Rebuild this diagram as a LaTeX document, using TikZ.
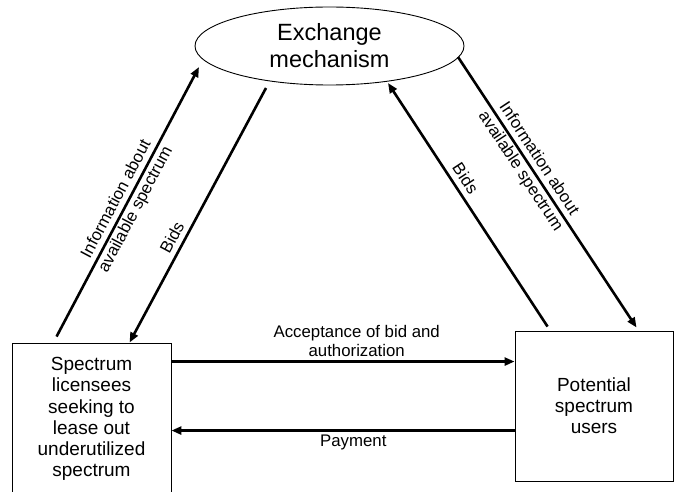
\documentclass[tikz,border=0pt]{standalone}
\usepackage{fontspec}
\setmainfont{Liberation Sans}
\usetikzlibrary{arrows.meta,shapes.geometric}
\begin{document}
\begin{tikzpicture}[x=1pt,y=-1pt,
  ellnode/.style={draw, ellipse, line width=0.9pt, minimum width=269pt, minimum height=78pt, inner sep=0pt, align=center, font=\fontsize{23.5}{27}\selectfont},
  boxnode/.style={draw, rectangle, line width=0.9pt, inner sep=0pt, align=center, font=\fontsize{19}{21.2}\selectfont},
  flow/.style={line width=2.6pt, -{Triangle[length=10pt,width=8pt]}},
  lbl/.style={font=\fontsize{16.8}{22}\selectfont, align=center, text=black},
]
\useasboundingbox (0,0) rectangle (678,492);
\node[ellnode] (ex) at (329.5,46) {Exchange\\mechanism};
\node[boxnode, minimum width=159pt, minimum height=152pt] (L) at (91.5,419) {Spectrum\\licensees\\seeking to\\lease out\\underutilized\\spectrum};
\node[boxnode, minimum width=158pt, minimum height=150pt] (R) at (594,406) {Potential\\spectrum\\users};

\draw[flow] ([xshift=45pt,yshift=6pt]L.north west) -- node[lbl, sloped, pos=0.49]{Information about\\available spectrum} ([xshift=-130.5pt,yshift=-21pt]ex.center);
\draw[flow] ([xshift=-63.5pt,yshift=-42pt]ex.center) -- node[lbl, sloped, above=1.5pt, pos=0.61]{Bids} ([xshift=118pt]L.north west);
\draw[flow] ([xshift=33pt,yshift=4pt]R.north west) -- node[lbl, sloped, above=2pt, pos=0.58]{Bids} ([xshift=58.5pt,yshift=-37pt]ex.center);
\draw[flow] ([xshift=128.5pt,yshift=-11pt]ex.center) -- node[lbl, sloped, pos=0.40]{Information about\\available spectrum} ([xshift=122pt,yshift=3pt]R.north west);
\draw[flow] ([yshift=-19pt]L.north east) -- node[lbl, above=0pt, pos=0.54, font=\fontsize{16.8}{19}\selectfont]{Acceptance of bid and\\authorization} ([yshift=-31pt]R.north west);
\draw[flow] ([yshift=-100pt]R.north west) -- node[lbl, below=0pt, pos=0.47]{Payment} ([yshift=-88pt]L.north east);
\end{tikzpicture}
\end{document}
